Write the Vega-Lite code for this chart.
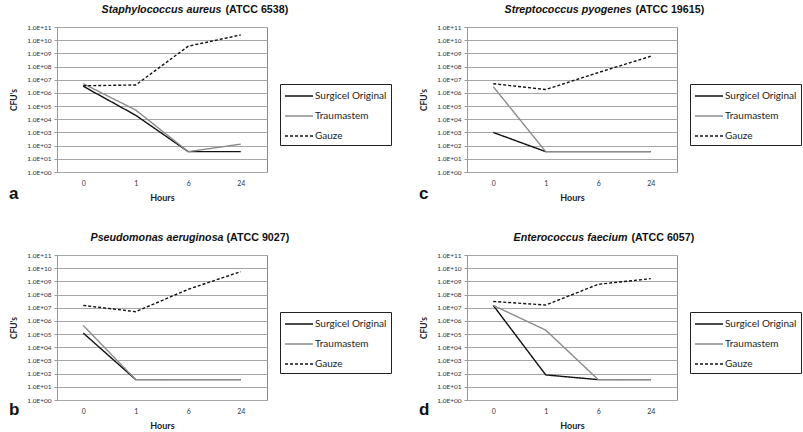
{
  "$schema": "https://vega.github.io/schema/vega-lite/v6.json",
  "background": "white",
  "padding": {"left": 8, "top": 2, "right": 0, "bottom": 0},
  "data": {
    "values": [
      {"panel": "a", "series": "Surgicel Original", "hours": "0", "cfu": 3200000},
      {"panel": "a", "series": "Surgicel Original", "hours": "1", "cfu": 20000},
      {"panel": "a", "series": "Surgicel Original", "hours": "6", "cfu": 35},
      {"panel": "a", "series": "Surgicel Original", "hours": "24", "cfu": 35},
      {"panel": "a", "series": "Traumastem", "hours": "0", "cfu": 5000000},
      {"panel": "a", "series": "Traumastem", "hours": "1", "cfu": 50000},
      {"panel": "a", "series": "Traumastem", "hours": "6", "cfu": 35},
      {"panel": "a", "series": "Traumastem", "hours": "24", "cfu": 130},
      {"panel": "a", "series": "Gauze", "hours": "0", "cfu": 3500000},
      {"panel": "a", "series": "Gauze", "hours": "1", "cfu": 4000000},
      {"panel": "a", "series": "Gauze", "hours": "6", "cfu": 3500000000},
      {"panel": "a", "series": "Gauze", "hours": "24", "cfu": 25000000000},
      {"panel": "c", "series": "Surgicel Original", "hours": "0", "cfu": 1000},
      {"panel": "c", "series": "Surgicel Original", "hours": "1", "cfu": 35},
      {"panel": "c", "series": "Surgicel Original", "hours": "6", "cfu": 35},
      {"panel": "c", "series": "Surgicel Original", "hours": "24", "cfu": 35},
      {"panel": "c", "series": "Traumastem", "hours": "0", "cfu": 3000000},
      {"panel": "c", "series": "Traumastem", "hours": "1", "cfu": 35},
      {"panel": "c", "series": "Traumastem", "hours": "6", "cfu": 35},
      {"panel": "c", "series": "Traumastem", "hours": "24", "cfu": 35},
      {"panel": "c", "series": "Gauze", "hours": "0", "cfu": 5000000},
      {"panel": "c", "series": "Gauze", "hours": "1", "cfu": 1800000},
      {"panel": "c", "series": "Gauze", "hours": "6", "cfu": 35000000},
      {"panel": "c", "series": "Gauze", "hours": "24", "cfu": 600000000},
      {"panel": "b", "series": "Surgicel Original", "hours": "0", "cfu": 120000},
      {"panel": "b", "series": "Surgicel Original", "hours": "1", "cfu": 35},
      {"panel": "b", "series": "Surgicel Original", "hours": "6", "cfu": 35},
      {"panel": "b", "series": "Surgicel Original", "hours": "24", "cfu": 35},
      {"panel": "b", "series": "Traumastem", "hours": "0", "cfu": 450000},
      {"panel": "b", "series": "Traumastem", "hours": "1", "cfu": 35},
      {"panel": "b", "series": "Traumastem", "hours": "6", "cfu": 35},
      {"panel": "b", "series": "Traumastem", "hours": "24", "cfu": 35},
      {"panel": "b", "series": "Gauze", "hours": "0", "cfu": 15000000},
      {"panel": "b", "series": "Gauze", "hours": "1", "cfu": 5000000},
      {"panel": "b", "series": "Gauze", "hours": "6", "cfu": 250000000},
      {"panel": "b", "series": "Gauze", "hours": "24", "cfu": 5500000000},
      {"panel": "d", "series": "Surgicel Original", "hours": "0", "cfu": 15000000},
      {"panel": "d", "series": "Surgicel Original", "hours": "1", "cfu": 80},
      {"panel": "d", "series": "Surgicel Original", "hours": "6", "cfu": 35},
      {"panel": "d", "series": "Surgicel Original", "hours": "24", "cfu": 35},
      {"panel": "d", "series": "Traumastem", "hours": "0", "cfu": 15000000},
      {"panel": "d", "series": "Traumastem", "hours": "1", "cfu": 200000},
      {"panel": "d", "series": "Traumastem", "hours": "6", "cfu": 35},
      {"panel": "d", "series": "Traumastem", "hours": "24", "cfu": 35},
      {"panel": "d", "series": "Gauze", "hours": "0", "cfu": 30000000},
      {"panel": "d", "series": "Gauze", "hours": "1", "cfu": 16000000},
      {"panel": "d", "series": "Gauze", "hours": "6", "cfu": 600000000},
      {"panel": "d", "series": "Gauze", "hours": "24", "cfu": 1600000000}
    ]
  },
  "columns": 2,
  "spacing": {"column": 26, "row": 27},
  "resolve": {"scale": {"color": "independent", "strokeDash": "independent"}},
  "concat": [
    {
      "width": 210,
      "height": 145,
      "transform": [{"filter": "datum.panel == 'a'"}],
      "title": {"text": "a", "orient": "bottom", "anchor": "start", "frame": "bounds", "fontSize": 17, "fontWeight": "bold", "offset": -16},
      "resolve": {"axis": {"x": "independent"}},
      "layer": [
        {
          "mark": {"type": "line", "strokeWidth": 1.4},
          "encoding": {
            "x": {"field": "hours", "type": "ordinal", "sort": ["0", "1", "6", "24"], "scale": {"type": "point", "padding": 0.5}, "axis": {"title": "Hours"}},
            "y": {"field": "cfu", "type": "quantitative", "scale": {"type": "log", "domain": [1, 100000000000], "nice": false}, "axis": {"title": "CFU's"}},
            "color": {"field": "series", "type": "nominal", "scale": {"domain": ["Surgicel Original", "Traumastem", "Gauze"], "range": ["#111111", "#8c8c8c", "#111111"]}, "legend": {"title": null}},
            "strokeDash": {"field": "series", "type": "nominal", "scale": {"domain": ["Surgicel Original", "Traumastem", "Gauze"], "range": [[1, 0], [1, 0], [3, 2]]}, "legend": {"title": null}}
          }
        },
        {
          "mark": {"type": "point", "opacity": 0},
          "encoding": {
            "x": {"field": "hours", "type": "ordinal", "sort": ["0", "1", "6", "24"], "axis": {"orient": "top", "title": "Staphylococcus aureus", "titleFontStyle": "italic", "titleX": 44, "labels": false, "ticks": false, "domain": false, "grid": false}},
            "y": {"field": "cfu", "type": "quantitative"}
          }
        },
        {
          "mark": {"type": "point", "opacity": 0},
          "encoding": {
            "x": {"field": "hours", "type": "ordinal", "sort": ["0", "1", "6", "24"], "axis": {"orient": "top", "title": "(ATCC 6538)", "titleX": 168, "labels": false, "ticks": false, "domain": false, "grid": false}},
            "y": {"field": "cfu", "type": "quantitative"}
          }
        }
      ]
    },
    {
      "width": 210,
      "height": 145,
      "transform": [{"filter": "datum.panel == 'c'"}],
      "title": {"text": "c", "orient": "bottom", "anchor": "start", "frame": "bounds", "fontSize": 17, "fontWeight": "bold", "offset": -16},
      "resolve": {"axis": {"x": "independent"}},
      "layer": [
        {
          "mark": {"type": "line", "strokeWidth": 1.4},
          "encoding": {
            "x": {"field": "hours", "type": "ordinal", "sort": ["0", "1", "6", "24"], "scale": {"type": "point", "padding": 0.5}, "axis": {"title": "Hours"}},
            "y": {"field": "cfu", "type": "quantitative", "scale": {"type": "log", "domain": [1, 100000000000], "nice": false}, "axis": {"title": "CFU's"}},
            "color": {"field": "series", "type": "nominal", "scale": {"domain": ["Surgicel Original", "Traumastem", "Gauze"], "range": ["#111111", "#8c8c8c", "#111111"]}, "legend": {"title": null}},
            "strokeDash": {"field": "series", "type": "nominal", "scale": {"domain": ["Surgicel Original", "Traumastem", "Gauze"], "range": [[1, 0], [1, 0], [3, 2]]}, "legend": {"title": null}}
          }
        },
        {
          "mark": {"type": "point", "opacity": 0},
          "encoding": {
            "x": {"field": "hours", "type": "ordinal", "sort": ["0", "1", "6", "24"], "axis": {"orient": "top", "title": "Streptococcus pyogenes", "titleFontStyle": "italic", "titleX": 37, "labels": false, "ticks": false, "domain": false, "grid": false}},
            "y": {"field": "cfu", "type": "quantitative"}
          }
        },
        {
          "mark": {"type": "point", "opacity": 0},
          "encoding": {
            "x": {"field": "hours", "type": "ordinal", "sort": ["0", "1", "6", "24"], "axis": {"orient": "top", "title": "(ATCC 19615)", "titleX": 168, "labels": false, "ticks": false, "domain": false, "grid": false}},
            "y": {"field": "cfu", "type": "quantitative"}
          }
        }
      ]
    },
    {
      "width": 210,
      "height": 145,
      "transform": [{"filter": "datum.panel == 'b'"}],
      "title": {"text": "b", "orient": "bottom", "anchor": "start", "frame": "bounds", "fontSize": 17, "fontWeight": "bold", "offset": -28},
      "resolve": {"axis": {"x": "independent"}},
      "layer": [
        {
          "mark": {"type": "line", "strokeWidth": 1.4},
          "encoding": {
            "x": {"field": "hours", "type": "ordinal", "sort": ["0", "1", "6", "24"], "scale": {"type": "point", "padding": 0.5}, "axis": {"title": "Hours"}},
            "y": {"field": "cfu", "type": "quantitative", "scale": {"type": "log", "domain": [1, 100000000000], "nice": false}, "axis": {"title": "CFU's"}},
            "color": {"field": "series", "type": "nominal", "scale": {"domain": ["Surgicel Original", "Traumastem", "Gauze"], "range": ["#111111", "#8c8c8c", "#111111"]}, "legend": {"title": null}},
            "strokeDash": {"field": "series", "type": "nominal", "scale": {"domain": ["Surgicel Original", "Traumastem", "Gauze"], "range": [[1, 0], [1, 0], [3, 2]]}, "legend": {"title": null}}
          }
        },
        {
          "mark": {"type": "point", "opacity": 0},
          "encoding": {
            "x": {"field": "hours", "type": "ordinal", "sort": ["0", "1", "6", "24"], "axis": {"orient": "top", "title": "Pseudomonas aeruginosa", "titleFontStyle": "italic", "titleX": 33, "labels": false, "ticks": false, "domain": false, "grid": false}},
            "y": {"field": "cfu", "type": "quantitative"}
          }
        },
        {
          "mark": {"type": "point", "opacity": 0},
          "encoding": {
            "x": {"field": "hours", "type": "ordinal", "sort": ["0", "1", "6", "24"], "axis": {"orient": "top", "title": "(ATCC 9027)", "titleX": 169, "labels": false, "ticks": false, "domain": false, "grid": false}},
            "y": {"field": "cfu", "type": "quantitative"}
          }
        }
      ]
    },
    {
      "width": 210,
      "height": 145,
      "transform": [{"filter": "datum.panel == 'd'"}],
      "title": {"text": "d", "orient": "bottom", "anchor": "start", "frame": "bounds", "fontSize": 17, "fontWeight": "bold", "offset": -28},
      "resolve": {"axis": {"x": "independent"}},
      "layer": [
        {
          "mark": {"type": "line", "strokeWidth": 1.4},
          "encoding": {
            "x": {"field": "hours", "type": "ordinal", "sort": ["0", "1", "6", "24"], "scale": {"type": "point", "padding": 0.5}, "axis": {"title": "Hours"}},
            "y": {"field": "cfu", "type": "quantitative", "scale": {"type": "log", "domain": [1, 100000000000], "nice": false}, "axis": {"title": "CFU's"}},
            "color": {"field": "series", "type": "nominal", "scale": {"domain": ["Surgicel Original", "Traumastem", "Gauze"], "range": ["#111111", "#8c8c8c", "#111111"]}, "legend": {"title": null}},
            "strokeDash": {"field": "series", "type": "nominal", "scale": {"domain": ["Surgicel Original", "Traumastem", "Gauze"], "range": [[1, 0], [1, 0], [3, 2]]}, "legend": {"title": null}}
          }
        },
        {
          "mark": {"type": "point", "opacity": 0},
          "encoding": {
            "x": {"field": "hours", "type": "ordinal", "sort": ["0", "1", "6", "24"], "axis": {"orient": "top", "title": "Enterococcus faecium", "titleFontStyle": "italic", "titleX": 46, "labels": false, "ticks": false, "domain": false, "grid": false}},
            "y": {"field": "cfu", "type": "quantitative"}
          }
        },
        {
          "mark": {"type": "point", "opacity": 0},
          "encoding": {
            "x": {"field": "hours", "type": "ordinal", "sort": ["0", "1", "6", "24"], "axis": {"orient": "top", "title": "(ATCC 6057)", "titleX": 164, "labels": false, "ticks": false, "domain": false, "grid": false}},
            "y": {"field": "cfu", "type": "quantitative"}
          }
        }
      ]
    }
  ],
  "config": {
    "font": "Lato",
    "view": {"stroke": "#8a8a8a", "strokeWidth": 1},
    "title": {"font": "Liberation Sans", "color": "#111111"},
    "axisX": {
      "labelFontSize": 7,
      "labelAngle": 0,
      "labelColor": "#333333",
      "labelPadding": 7,
      "ticks": false,
      "domain": false,
      "grid": false,
      "titleFontSize": 9,
      "titleFontWeight": "bold",
      "titleColor": "#222222",
      "titlePadding": 7
    },
    "axisTop": {
      "titleFont": "Liberation Sans",
      "titleFontSize": 10.7,
      "titleFontWeight": "bold",
      "titleColor": "#111111",
      "titleAlign": "left",
      "titleAnchor": "start",
      "titleBaseline": "alphabetic",
      "titleY": -15
    },
    "axisY": {
      "values": [1, 10, 100, 1000, 10000, 100000, 1000000, 10000000, 100000000, 1000000000, 10000000000, 100000000000],
      "labelExpr": "'1.0E+' + (round(log(datum.value) / LN10) < 10 ? '0' : '') + round(log(datum.value) / LN10)",
      "labelFontSize": 6.5,
      "labelColor": "#333333",
      "labelPadding": 3,
      "tickSize": 3,
      "tickColor": "#999999",
      "domainColor": "#999999",
      "gridColor": "#a6a6a6",
      "gridWidth": 1,
      "minExtent": 30,
      "maxExtent": 30,
      "titleFontSize": 8.5,
      "titleFontWeight": "bold",
      "titleColor": "#222222",
      "titlePadding": 9
    },
    "legend": {
      "orient": "none",
      "legendX": 223,
      "legendY": 57,
      "symbolType": "M-2,0H2",
      "symbolSize": 196,
      "symbolOffset": 7,
      "symbolStrokeWidth": 1.5,
      "labelFontSize": 10,
      "labelFont": "Lato",
      "labelColor": "#222222",
      "labelOffset": 8,
      "padding": 4,
      "rowPadding": 7,
      "strokeColor": "#222222",
      "fillColor": "white",
      "cornerRadius": 0
    }
  }
}
